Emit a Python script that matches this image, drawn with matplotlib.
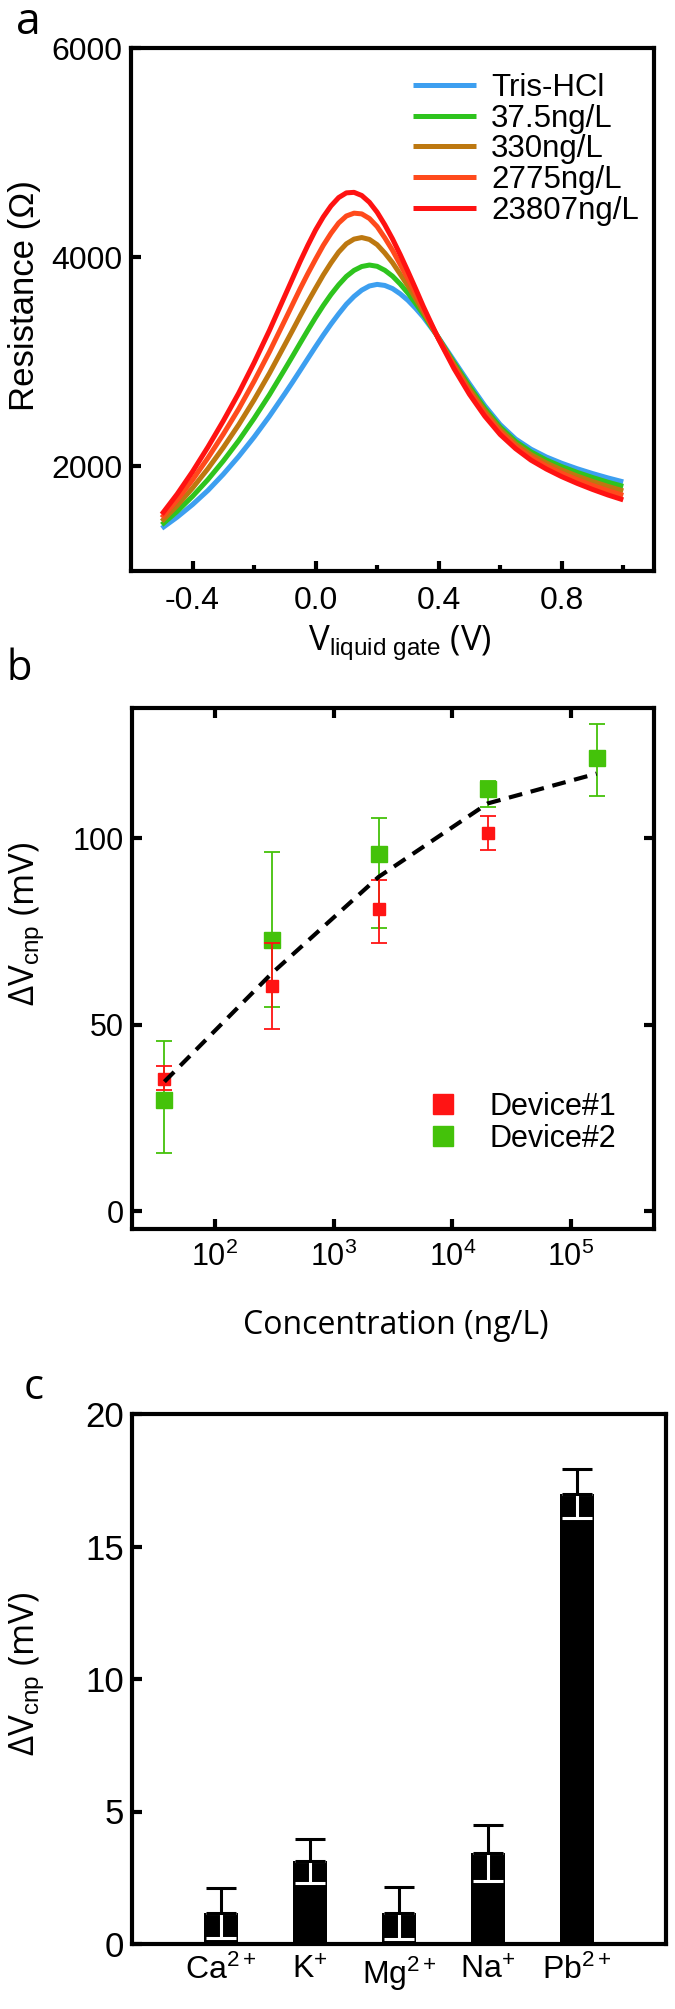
import numpy as np
import matplotlib.pyplot as plt
from matplotlib.lines import Line2D

plt.rcParams['font.family'] = ['Liberation Sans', 'DejaVu Sans']
plt.rcParams['mathtext.fontset'] = 'custom'
plt.rcParams['mathtext.rm'] = 'Liberation Sans'
plt.rcParams['mathtext.it'] = 'Liberation Sans:italic'
plt.rcParams['mathtext.bf'] = 'Liberation Sans:bold'

# ---- panel a : transfer curves ----
v_gate = [-0.5, -0.45, -0.4, -0.35, -0.3, -0.25, -0.2, -0.15, -0.1, -0.075,
          -0.05, -0.025, 0.0, 0.025, 0.05, 0.075, 0.1, 0.125, 0.15, 0.175,
          0.2, 0.225, 0.25, 0.275, 0.3, 0.325, 0.35, 0.4, 0.45, 0.5,
          0.55, 0.6, 0.65, 0.7, 0.75, 0.8, 0.85, 0.9, 0.95, 1.0]
r_tris = [1408, 1515, 1635, 1770, 1925, 2095, 2280, 2480, 2695, 2805,
          2918, 3032, 3145, 3255, 3360, 3458, 3550, 3625, 3685, 3725,
          3740, 3730, 3700, 3650, 3588, 3512, 3428, 3230, 3010, 2790,
          2580, 2400, 2262, 2165, 2090, 2030, 1978, 1932, 1890, 1852]
r_37 = [1442, 1570, 1714, 1874, 2052, 2246, 2458, 2685, 2929, 3053,
        3179, 3303, 3424, 3538, 3643, 3736, 3816, 3874, 3911, 3925,
        3913, 3875, 3819, 3744, 3657, 3559, 3454, 3226, 2991, 2765,
        2555, 2376, 2239, 2139, 2061, 1998, 1943, 1894, 1849, 1809]
r_330 = [1475, 1625, 1793, 1978, 2180, 2398, 2635, 2890, 3163, 3300,
         3439, 3574, 3703, 3830, 3945, 4049, 4128, 4173, 4188, 4170,
         4120, 4040, 3948, 3838, 3727, 3606, 3479, 3223, 2973, 2740,
         2530, 2353, 2216, 2113, 2033, 1966, 1908, 1856, 1809, 1766]
r_2775 = [1509, 1680, 1871, 2081, 2308, 2549, 2813, 3095, 3396, 3548,
          3700, 3844, 3981, 4113, 4228, 4327, 4394, 4421, 4414, 4370,
          4293, 4185, 4066, 3931, 3796, 3653, 3505, 3219, 2954, 2715,
          2505, 2329, 2193, 2086, 2004, 1934, 1873, 1818, 1768, 1723]
r_23807 = [1542, 1735, 1950, 2185, 2435, 2700, 2990, 3300, 3630, 3795,
           3960, 4115, 4260, 4385, 4490, 4570, 4615, 4620, 4590, 4525,
           4430, 4310, 4175, 4025, 3865, 3700, 3530, 3215, 2935, 2690,
           2480, 2305, 2170, 2060, 1975, 1902, 1838, 1780, 1727, 1680]
labels_a = ['Tris-HCl', '37.5ng/L', '330ng/L', '2775ng/L', '23807ng/L']
colors_a = ['#3d9ff0', '#2ec41e', '#bd7810', '#ff4a1c', '#ff1212']

# ---- panel b : response vs concentration ----
conc1 = [37.5, 300, 2390, 19800]
dv1 = [35.3, 60.3, 81.0, 101.3]
dv1_lo = [2.9, 11.6, 9.0, 4.5]
dv1_hi = [3.7, 11.6, 7.9, 4.7]
conc2 = [37.5, 300, 2390, 19800, 164000]
dv2 = [29.9, 72.8, 95.7, 113.3, 121.4]
dv2_lo = [14.4, 18.0, 19.7, 4.9, 10.1]
dv2_hi = [15.7, 23.4, 9.8, 2.0, 9.3]
fit_conc = [37.5, 300, 2390, 19800, 164000]
fit_dv = [34.7, 63.7, 89.6, 109.3, 117.3]

# ---- panel c : selectivity ----
ions = ['Ca$^{2+}$', 'K$^{+}$', 'Mg$^{2+}$', 'Na$^{+}$', 'Pb$^{2+}$']
dv_ion = [1.16, 3.15, 1.16, 3.43, 16.99]
dv_ion_err = [0.94, 0.83, 0.99, 1.05, 0.93]

W, H = 675, 2009
fig = plt.figure(figsize=(W / 100, H / 100), dpi=100)

def fx(px):
    return px / W

def fy(py):
    return 1 - py / H

lab_font = ['Open Sans', 'DejaVu Sans']
spine_lw = 3.0

# ================= panel a =================
axa = fig.add_axes([fx(131), fy(571), fx(654) - fx(131), fy(48) - fy(571)])
curves = [r_tris, r_37, r_330, r_2775, r_23807]
for r, c, lab in zip(curves, colors_a, labels_a):
    axa.plot(v_gate, r, color=c, lw=3.6, label=lab, solid_capstyle='butt')
axa.set_xlim(-0.6, 1.1)
axa.set_ylim(1000, 6000)
axa.set_xticks([-0.4, 0.0, 0.4, 0.8])
axa.set_xticks([-0.2, 0.2, 0.6, 1.0], minor=True)
axa.set_xticklabels(['-0.4', '0.0', '0.4', '0.8'])
axa.set_yticks([2000, 4000, 6000])
axa.tick_params(axis='both', which='major', direction='in', length=7, width=3,
                labelsize=23)
axa.tick_params(axis='x', which='major', pad=11)
axa.tick_params(axis='y', which='major', pad=6)
axa.tick_params(axis='x', which='minor', direction='in', length=4, width=3)
for s in axa.spines.values():
    s.set_linewidth(spine_lw)
axa.legend(loc='upper left', bbox_to_anchor=(fx(413), fy(73)),
           bbox_transform=fig.transFigure, frameon=False, fontsize=22.5,
           handlelength=2.0, handletextpad=0.5, labelspacing=0.02,
           borderpad=0, borderaxespad=0)
fig.text(fx(25), fy(180), 'Resistance (\u03a9)', rotation=90, ha='center',
         va='top', fontsize=25)
fig.text(fx(400), fy(650), 'V$_{\\mathrm{liquid\\ gate}}$ (V)', ha='center',
         va='baseline', fontsize=25, family=lab_font)
fig.text(fx(16), fy(34), 'a', fontsize=32, family=lab_font, va='baseline')

# ================= panel b =================
axb = fig.add_axes([fx(132), fy(1229), fx(654) - fx(132), fy(708) - fy(1229)])
axb.set_xscale('log')
axb.errorbar(conc2, dv2, yerr=[dv2_lo, dv2_hi], fmt='s', color='#44c20a',
             ms=12, elinewidth=1.3, capsize=6, capthick=1.3, zorder=2)
axb.errorbar(conc1, dv1, yerr=[dv1_lo, dv1_hi], fmt='s', color='#ff1414',
             ms=8, elinewidth=1.3, capsize=6, capthick=1.3, zorder=3)
axb.plot(fit_conc, fit_dv, color='black', lw=3, ls=(0, (3.3, 2.1)), zorder=4)
axb.set_xlim(20, 5e5)
axb.set_ylim(-4.8, 134.9)
axb.set_xticks([1e2, 1e3, 1e4, 1e5])
axb.set_xticklabels(['10$^{2}$', '10$^{3}$', '10$^{4}$', '10$^{5}$'])
axb.xaxis.set_minor_locator(plt.NullLocator())
axb.set_yticks([0, 50, 100])
axb.tick_params(axis='both', which='major', direction='in', length=7, width=3,
                labelsize=22, top=True, right=True)
axb.tick_params(axis='x', pad=9)
axb.tick_params(axis='y', pad=6)
for s in axb.spines.values():
    s.set_linewidth(spine_lw)
hb = [Line2D([], [], marker='s', ls='none', color='#ff1414', ms=14),
      Line2D([], [], marker='s', ls='none', color='#44c20a', ms=14)]
axb.legend(hb, ['Device#1', 'Device#2'], loc='upper left',
           bbox_to_anchor=(fx(425), fy(1092)), bbox_transform=fig.transFigure,
           frameon=False, fontsize=22, handlelength=1.2, handletextpad=0.9,
           labelspacing=0.05, borderpad=0, borderaxespad=0)
fig.text(fx(27), fy(842), '\u0394V$_{\\mathrm{cnp}}$ (mV)', rotation=90,
         ha='center', va='top', fontsize=25, family=lab_font)
fig.text(fx(396), fy(1334), 'Concentration (ng/L)', ha='center',
         va='baseline', fontsize=23, family=lab_font)
fig.text(fx(6), fy(680), 'b', fontsize=30, family=lab_font, va='baseline')

# ================= panel c =================
axc = fig.add_axes([fx(132), fy(1944), fx(666) - fx(132), fy(1414) - fy(1944)])
xpos = np.arange(1, len(ions) + 1)
axc.bar(xpos, dv_ion, width=0.39, color='black', zorder=2)
zeros = np.zeros(len(ions))
axc.errorbar(xpos, dv_ion, yerr=[dv_ion_err, zeros], fmt='none', ecolor='white',
             elinewidth=2.2, capsize=11, capthick=2.2, zorder=3)
axc.errorbar(xpos, dv_ion, yerr=[zeros, dv_ion_err], fmt='none', ecolor='black',
             elinewidth=2.2, capsize=11, capthick=2.2, zorder=4)
axc.set_xlim(0, 6)
axc.set_ylim(0, 20)
axc.set_xticks(xpos)
axc.set_xticklabels(ions)
axc.set_yticks([0, 5, 10, 15, 20])
axc.tick_params(axis='y', direction='in', length=7, width=3, labelsize=25, pad=6)
axc.tick_params(axis='x', length=0, labelsize=23, pad=8)
for s in axc.spines.values():
    s.set_linewidth(spine_lw)
fig.text(fx(27), fy(1592), '\u0394V$_{\\mathrm{cnp}}$ (mV)', rotation=90,
         ha='center', va='top', fontsize=25, family=lab_font)
fig.text(fx(24), fy(1399), 'c', fontsize=30, family=lab_font, va='baseline')

fig.savefig('out.png', dpi=100)
